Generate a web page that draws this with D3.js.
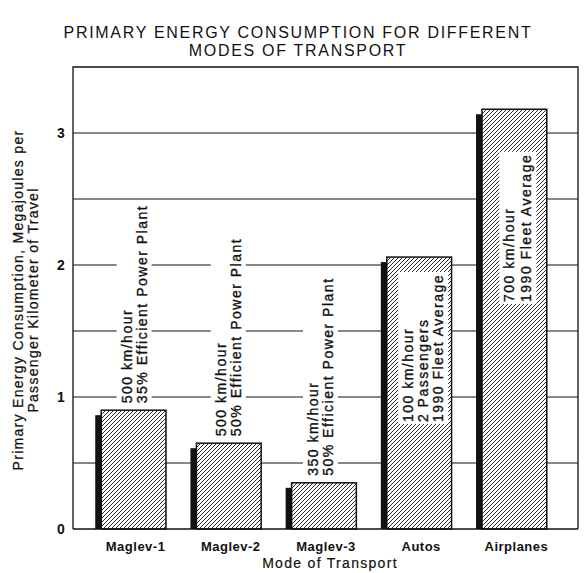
<!DOCTYPE html>
<html>
<head>
<meta charset="utf-8">
<script src="https://cdn.jsdelivr.net/npm/d3@7/dist/d3.min.js"></script>
<style>
  html, body { margin: 0; padding: 0; background: #fff; }
  svg { display: block; }
  text { font-family: "Liberation Sans", Arial, Helvetica, sans-serif; fill: #111; }
</style>
</head>
<body>
<svg id="chart" width="588" height="573"></svg>
<script>
// ---- data ----
const categories = ["Maglev-1", "Maglev-2", "Maglev-3", "Autos", "Airplanes"];
const values = [0.9, 0.65, 0.35, 2.06, 3.18];
const annotations = [
  ["500 km/hour", "35% Efficient Power Plant"],
  ["500 km/hour", "50% Efficient Power Plant"],
  ["350 km/hour", "50% Efficient Power Plant"],
  ["100 km/hour", "2 Passengers", "1990 Fleet Average"],
  ["700 km/hour", "1990 Fleet Average"]
];
const yTickLabels = [0, 1, 2, 3];
const gridValues = [0.5, 1, 1.5, 2, 2.5, 3];
const titleLines = ["PRIMARY ENERGY CONSUMPTION FOR DIFFERENT", "MODES OF TRANSPORT"];
const yTitleLines = ["Primary Energy Consumption, Megajoules per", "Passenger Kilometer of Travel"];
const xTitle = "Mode of Transport";

// ---- layout ----
const frame = { left: 73, right: 578, top: 67, bottom: 529 };
const svg = d3.select("#chart");

const x = d3.scaleBand().domain(categories).range([86, 562]).paddingInner(0.32).paddingOuter(0.16);
const y = d3.scaleLinear().domain([0, 3.5]).range([frame.bottom, frame.top]);

// hatch pattern
const defs = svg.append("defs");
const pat = defs.append("pattern").attr("id", "hatch").attr("patternUnits", "userSpaceOnUse")
  .attr("width", 4).attr("height", 4);
pat.append("rect").attr("width", 4).attr("height", 4).attr("fill", "#fff");
pat.append("path").attr("d", "M-1,1 l2,-2 M0,4 l4,-4 M3,5 l2,-2")
  .attr("stroke", "#111").attr("stroke-width", 0.9);

// gridlines
svg.append("g").selectAll("line").data(gridValues).join("line")
  .attr("x1", frame.left).attr("x2", frame.right)
  .attr("y1", d => y(d)).attr("y2", d => y(d))
  .attr("stroke", "#111").attr("stroke-width", 1.2);

// frame
svg.append("path")
  .attr("d", `M${frame.left},${frame.bottom} V${frame.top} H${frame.right} V${frame.bottom}`)
  .attr("fill", "none").attr("stroke", "#111").attr("stroke-width", 1.3);

// annotation text (above maglev bars, inside autos/airplanes)
const lineOffsets = [
  [-7, 8], [-8, 7], [-11, 4], [-11, 4, 19], [-5, 12]
];
const insideStart = { 3: 0.81, 4: 1.72 };
const annG = svg.append("g");
categories.forEach((c, i) => {
  const cx = x(c) + x.bandwidth() / 2;
  const inside = insideStart[i] !== undefined;
  const startY = inside ? y(insideStart[i]) : y(values[i]) - 7;
  const g = annG.append("g").attr("class", "ann" + i);
  g.append("g");
  const tg = g.append("g");
  annotations[i].forEach((line, j) => {
    tg.append("text")
      .attr("transform", `translate(${cx + lineOffsets[i][j] + 5},${startY}) rotate(-90)`)
      .attr("font-size", 14).attr("letter-spacing", 1.5)
      .attr("stroke", "#111").attr("stroke-width", 0.35)
      .attr("text-anchor", "start")
      .text(line);
  });
});

// bars
const bars = svg.append("g");
bars.selectAll("rect.shadow").data(categories).join("rect")
  .attr("class", "shadow")
  .attr("x", d => x(d) - 6).attr("width", 6)
  .attr("y", (d, i) => y(values[i]) + 5)
  .attr("height", (d, i) => y(0) - y(values[i]) - 5)
  .attr("fill", "#111");
bars.selectAll("rect.bar").data(categories).join("rect")
  .attr("class", "bar")
  .attr("x", d => x(d)).attr("width", x.bandwidth())
  .attr("y", (d, i) => y(values[i]))
  .attr("height", (d, i) => y(0) - y(values[i]))
  .attr("fill", "url(#hatch)").attr("stroke", "#111").attr("stroke-width", 1.5);

// white backgrounds behind annotation text, then raise annotations
categories.forEach((c, i) => {
  const g = annG.select(".ann" + i);
  const bb = g.node().getBBox();
  g.select("g").append("rect")
    .attr("x", bb.x - 2).attr("y", bb.y - 2)
    .attr("width", bb.width + 4).attr("height", bb.height + 4)
    .attr("fill", "#fff");
});
annG.raise();

// baseline
svg.append("line").attr("x1", frame.left).attr("x2", frame.right)
  .attr("y1", frame.bottom).attr("y2", frame.bottom)
  .attr("stroke", "#111").attr("stroke-width", 1.5);

// y tick labels
svg.append("g").selectAll("text").data(yTickLabels).join("text")
  .attr("x", 61).attr("y", d => y(d)).attr("dy", "0.35em")
  .attr("text-anchor", "middle").attr("font-size", 14).attr("font-weight", "bold")
  .text(d => d);

// x labels
svg.append("g").selectAll("text").data(categories).join("text")
  .attr("x", d => x(d) + x.bandwidth() / 2 + 2).attr("y", 551)
  .attr("text-anchor", "middle").attr("font-size", 13).attr("font-weight", "bold")
  .attr("letter-spacing", 0.5)
  .text(d => d);

// x title
svg.append("text").attr("x", 330).attr("y", 568)
  .attr("text-anchor", "middle").attr("font-size", 14).attr("letter-spacing", 1.3)
  .attr("stroke", "#111").attr("stroke-width", 0.2)
  .text(xTitle);

// y title
yTitleLines.forEach((t, j) => {
  svg.append("text")
    .attr("transform", `translate(${23 + j * 15},300) rotate(-90)`)
    .attr("text-anchor", "middle").attr("font-size", 14).attr("letter-spacing", 1.3)
    .attr("stroke", "#111").attr("stroke-width", 0.25)
    .text(t);
});

// title
titleLines.forEach((t, j) => {
  svg.append("text")
    .attr("x", 298).attr("y", 38 + j * 18)
    .attr("text-anchor", "middle").attr("font-size", 16).attr("letter-spacing", 1.7)
    .text(t);
});
</script>
</body>
</html>
